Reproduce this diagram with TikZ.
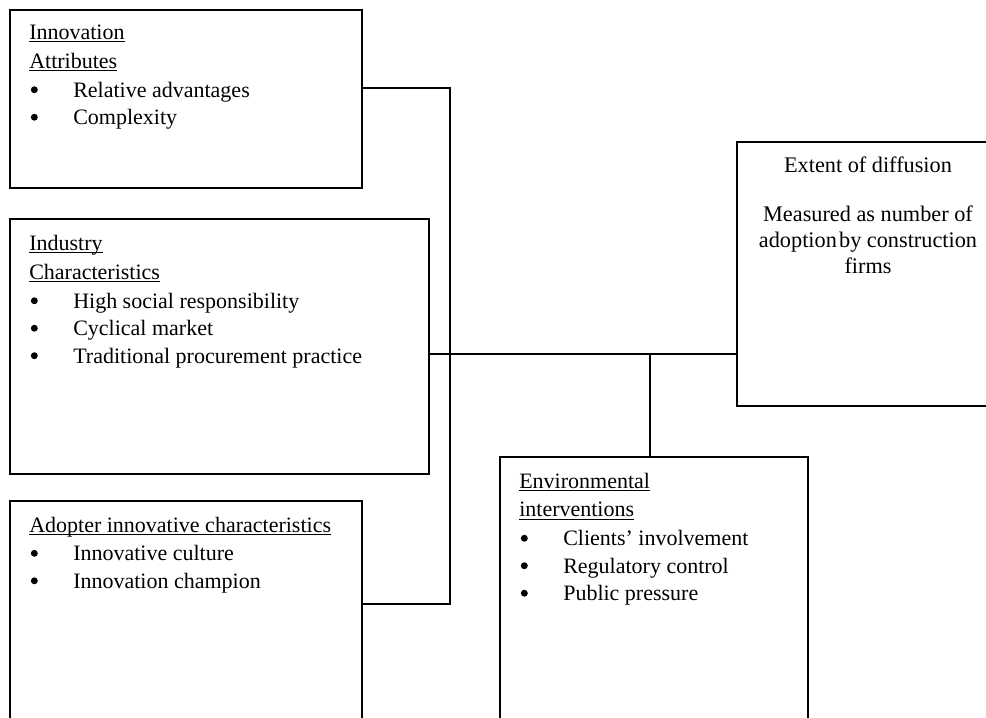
\documentclass[tikz,border=0pt]{standalone}
\usepackage{fontspec}
\setmainfont{Liberation Serif}
\usetikzlibrary{fit}
\newsavebox{\ulbox}
\newcommand{\ulin}[1]{\sbox\ulbox{#1}\rlap{\rule[-2.2pt]{\wd\ulbox}{0.75pt}}\usebox\ulbox}
\newcommand{\bul}{\makebox[33pt][l]{\hspace{1.2pt}\tikz[baseline=0pt]\fill (2.6pt,5.7pt) circle (2.6pt);}}
\tikzset{
  box/.style={draw, line width=1.1pt, inner sep=0pt},
  txt/.style={anchor=north west, inner sep=0pt, align=left,
    font=\fontsize{16.5}{20.6}\selectfont},
  link/.style={line width=1.1pt},
}
\begin{document}
\begin{tikzpicture}[x=0.75pt,y=-0.75pt]
  \useasboundingbox (0,0) rectangle (986,718);
  \clip (0,0) rectangle (986,718);
  % boxes
  \node[box, fit={(10,10) (362,188)}] (innov) {};
  \node[box, fit={(10,219) (429,474)}] (indus) {};
  \node[box, fit={(10,501) (362,740)}] (adopt) {};
  \node[box, fit={(737,142) (1000,406)}] (extent) {};
  \node[box, fit={(500,457) (808,740)}] (envir) {};
  % texts
  \node[txt] (innovtxt) at (29,20) {\strut\ulin{Innovation}\\[1.1pt]
    \ulin{Attributes}\\[1.1pt]
    \bul Relative advantages\\
    \bul Complexity};
  \node[txt] (industxt) at (29,231) {\strut\ulin{Industry}\\[1.1pt]
    \ulin{Characteristics}\\[1.1pt]
    \bul High social responsibility\\
    \bul Cyclical market\\
    \bul Traditional procurement practice};
  \node[txt] (adopttxt) at (29,512.5) {\strut\ulin{Adopter innovative characteristics}\\[1.1pt]
    \bul Innovative culture\\
    \bul Innovation champion};
  \node[txt] (envirtxt) at (519,468.5) {\strut\ulin{Environmental}\\[1.1pt]
    \ulin{interventions}\\[1.1pt]
    \bul Clients’ involvement\\
    \bul Regulatory control\\
    \bul Public pressure};
  \node[txt, anchor=north, align=center, font=\fontsize{16.7}{19.5}\selectfont]
    (extenttxt) at (868,154.5) {\strut Extent of diffusion\\[17pt]
    Measured as number of\\
    adoption\hspace{0.1em}by construction\\
    firms};
  % connectors
  \coordinate (top) at (450,88);
  \coordinate (bot) at (450,604);
  \coordinate (hub) at (650,354);
  \begin{scope}[link]
    \draw (innov.east |- top) -- (top) -- (bot) -- (adopt.east |- bot);
    \draw (indus.east |- hub) -- (extent.west |- hub);
    \draw (hub) -- (envir.north -| hub);
  \end{scope}
\end{tikzpicture}
\end{document}
